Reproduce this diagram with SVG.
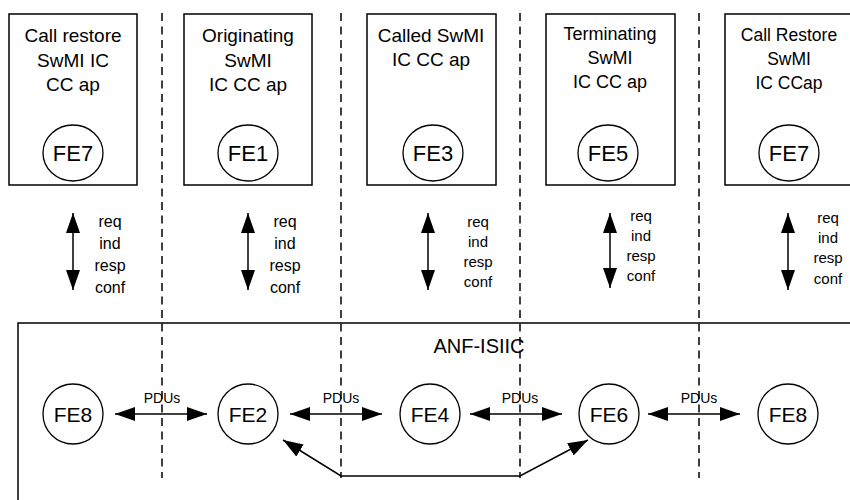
<svg xmlns="http://www.w3.org/2000/svg" width="850" height="500" viewBox="0 0 850 500">
<defs>
<style>
text{font-family:"Liberation Sans",Arial,sans-serif;fill:#000;text-anchor:middle}
.box{fill:#fff;stroke:#000;stroke-width:1.5}
.fe{fill:#fff;stroke:#000;stroke-width:1.3}
.dash{stroke:#000;stroke-width:1.5;stroke-dasharray:8 5.5;fill:none}
.ln{stroke:#000;stroke-width:1.5;fill:none}
.t19{font-size:19px}
.fe22{font-size:22px}
.fe21{font-size:21px}
.pdu{font-size:14px}
.prim{font-size:16px}
.prim14{font-size:15px}
</style>
<marker id="ah" markerUnits="userSpaceOnUse" markerWidth="20" markerHeight="14" refX="20" refY="7" orient="auto-start-reverse">
<path d="M0,0 L20,7 L0,14 z" fill="#000"/>
</marker>
</defs>
<rect width="850" height="500" fill="#fff"/>

<rect id="anf" x="18" y="323" width="850" height="200" class="box"/>
<text x="479" y="353" style="font-size:20px">ANF-ISIIC</text>

<g id="box1">
<rect x="9" y="14" width="128" height="171" class="box"/>
<text class="t19" x="73" y="42">Call restore</text>
<text class="t19" x="73" y="67">SwMI IC</text>
<text class="t19" x="73" y="91">CC ap</text>
<ellipse cx="73" cy="153" rx="30" ry="28" class="fe"/>
<text class="fe22" x="73" y="161">FE7</text>
</g>
<g id="box2">
<rect x="184" y="14" width="128" height="171" class="box"/>
<text class="t19" x="248" y="42">Originating</text>
<text class="t19" x="248" y="67">SwMI</text>
<text class="t19" x="248" y="91">IC CC ap</text>
<ellipse cx="248" cy="153" rx="30" ry="28" class="fe"/>
<text class="fe22" x="248" y="161">FE1</text>
</g>
<g id="box3">
<rect x="367" y="14" width="129" height="171" class="box"/>
<text class="t19" x="431" y="42">Called SwMI</text>
<text class="t19" x="431" y="66">IC CC ap</text>
<ellipse cx="433" cy="153" rx="30" ry="28" class="fe"/>
<text class="fe22" x="433" y="161">FE3</text>
</g>
<g id="box4">
<rect x="546" y="14" width="129" height="171" class="box"/>
<text x="610" y="40" style="font-size:18px">Terminating</text>
<text x="610" y="64" style="font-size:18px">SwMI</text>
<text x="610" y="88" style="font-size:18px">IC CC ap</text>
<ellipse cx="608" cy="153" rx="30" ry="28" class="fe"/>
<text class="fe22" x="608" y="161">FE5</text>
</g>
<g id="box5">
<rect x="725" y="14" width="129" height="171" class="box"/>
<text x="789" y="41" style="font-size:17.5px">Call Restore</text>
<text x="789" y="65" style="font-size:17.5px">SwMI</text>
<text x="789" y="89" style="font-size:17.5px">IC CCap</text>
<ellipse cx="789" cy="153" rx="30" ry="28" class="fe"/>
<text class="fe22" x="789" y="161">FE7</text>
</g>

<g id="fe8a"><circle cx="73" cy="414" r="30" class="fe"/><text class="fe21" x="73" y="422">FE8</text></g>
<g id="fe2"><circle cx="248" cy="414" r="30" class="fe"/><text class="fe21" x="248" y="422">FE2</text></g>
<g id="fe4"><circle cx="430" cy="414" r="30" class="fe"/><text class="fe21" x="430" y="422">FE4</text></g>
<g id="fe6"><circle cx="609" cy="414" r="30" class="fe"/><text class="fe21" x="609" y="422">FE6</text></g>
<g id="fe8b"><circle cx="788" cy="414" r="30" class="fe"/><text class="fe21" x="788" y="422">FE8</text></g>

<g id="labels">
<text class="prim" x="110" y="227">req</text>
<text class="prim" x="110" y="249">ind</text>
<text class="prim" x="110" y="271">resp</text>
<text class="prim" x="110" y="293">conf</text>
<text class="prim" x="285" y="227">req</text>
<text class="prim" x="285" y="249">ind</text>
<text class="prim" x="285" y="271">resp</text>
<text class="prim" x="285" y="293">conf</text>
<text class="prim14" x="478" y="227">req</text>
<text class="prim14" x="478" y="247">ind</text>
<text class="prim14" x="478" y="267">resp</text>
<text class="prim14" x="478" y="287">conf</text>
<text class="prim14" x="641" y="221">req</text>
<text class="prim14" x="641" y="241">ind</text>
<text class="prim14" x="641" y="261">resp</text>
<text class="prim14" x="641" y="281">conf</text>
<text class="prim14" x="828" y="223">req</text>
<text class="prim14" x="828" y="243">ind</text>
<text class="prim14" x="828" y="263">resp</text>
<text class="prim14" x="828" y="284">conf</text>
<text class="pdu" x="162" y="403">PDUs</text>
<text class="pdu" x="341" y="403">PDUs</text>
<text class="pdu" x="520" y="403">PDUs</text>
<text class="pdu" x="699" y="403">PDUs</text>
</g>

<g id="dashes">
<line x1="162" y1="13" x2="162" y2="478" class="dash"/>
<line x1="341" y1="13" x2="341" y2="478" class="dash"/>
<line x1="520" y1="13" x2="520" y2="478" class="dash"/>
<line x1="699" y1="13" x2="699" y2="478" class="dash"/>
</g>

<g id="connectors">
<line x1="73" y1="213" x2="73" y2="290" class="ln" marker-start="url(#ah)" marker-end="url(#ah)"/>
<line x1="248" y1="213" x2="248" y2="290" class="ln" marker-start="url(#ah)" marker-end="url(#ah)"/>
<line x1="428" y1="213" x2="428" y2="290" class="ln" marker-start="url(#ah)" marker-end="url(#ah)"/>
<line x1="610" y1="213" x2="610" y2="288" class="ln" marker-start="url(#ah)" marker-end="url(#ah)"/>
<line x1="788" y1="213" x2="788" y2="290" class="ln" marker-start="url(#ah)" marker-end="url(#ah)"/>

<line x1="115" y1="414" x2="207" y2="414" class="ln" marker-start="url(#ah)" marker-end="url(#ah)"/>
<line x1="290" y1="414" x2="382" y2="414" class="ln" marker-start="url(#ah)" marker-end="url(#ah)"/>
<line x1="470" y1="414" x2="562" y2="414" class="ln" marker-start="url(#ah)" marker-end="url(#ah)"/>
<line x1="648" y1="414" x2="740" y2="414" class="ln" marker-start="url(#ah)" marker-end="url(#ah)"/>

<polyline points="283,440 341,476 520,476 588,440" class="ln" marker-start="url(#ah)" marker-end="url(#ah)"/>
</g>
</svg>
